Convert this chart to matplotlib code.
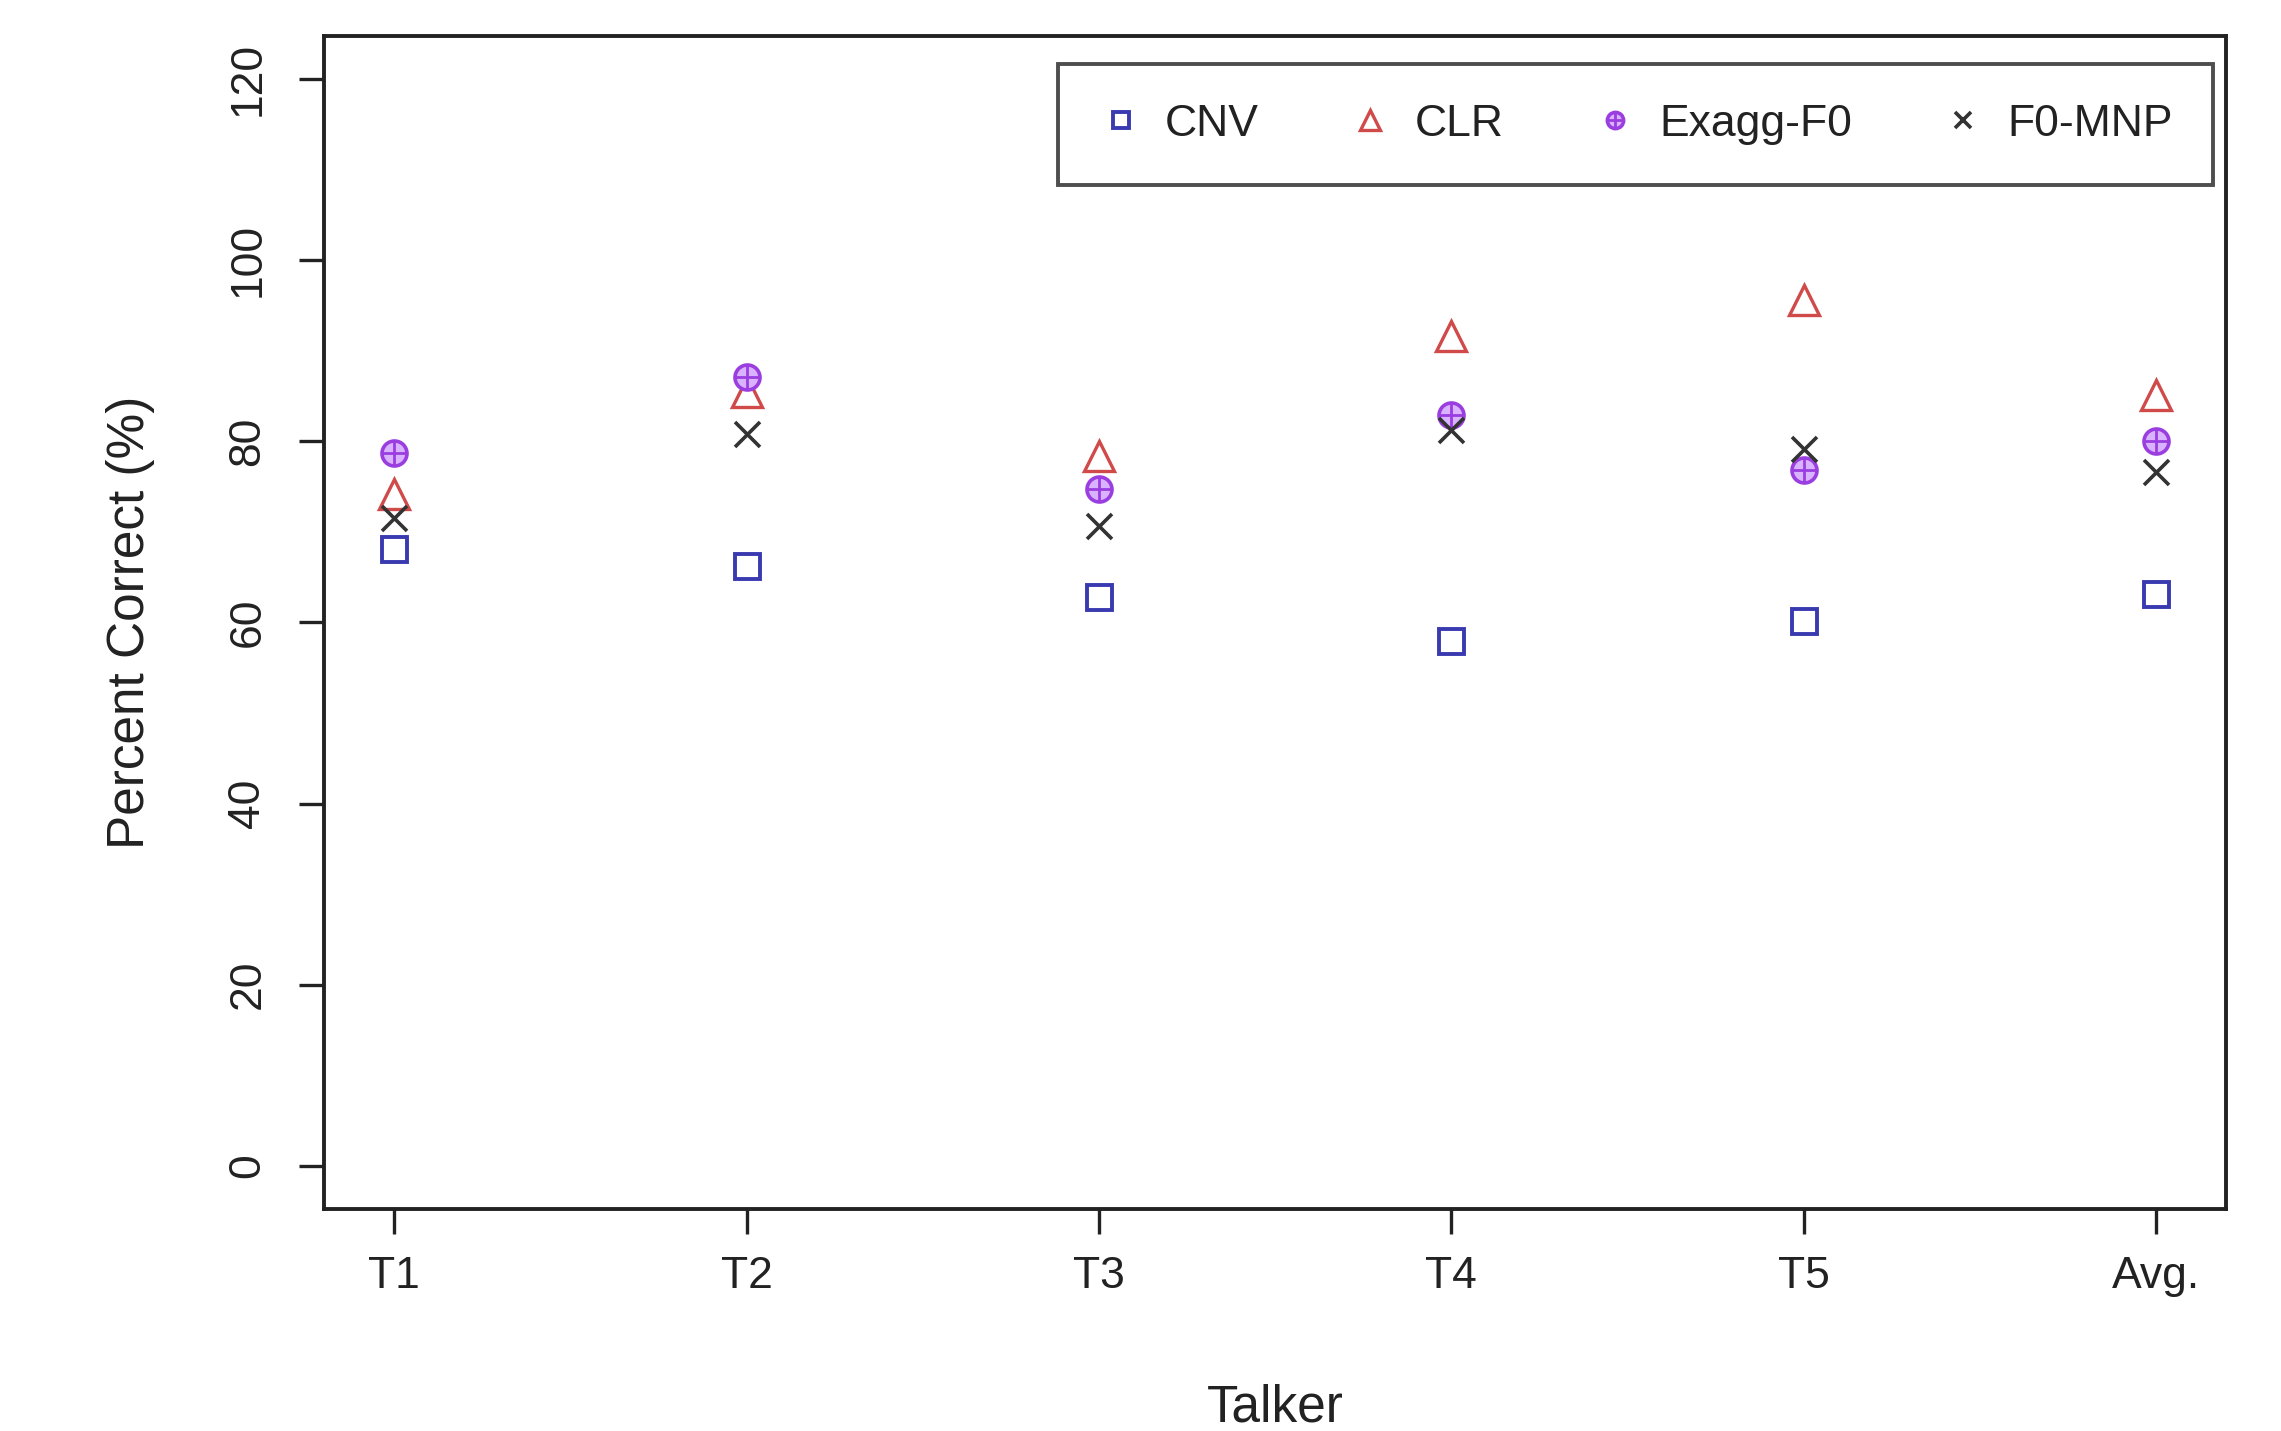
import matplotlib
matplotlib.use("Agg")
import matplotlib.pyplot as plt
from matplotlib.legend_handler import HandlerTuple

plt.rcParams['font.family'] = ['Liberation Sans', 'DejaVu Sans']

talkers = ["T1", "T2", "T3", "T4", "T5", "Avg."]
cnv = [68.1, 66.2, 62.8, 58.0, 60.2, 63.1]
clr = [74.2, 85.5, 78.4, 91.6, 95.6, 85.1]
exagg_f0 = [78.7, 87.1, 74.7, 82.9, 76.8, 80.0]
f0_mnp = [71.5, 80.8, 70.7, 81.3, 79.2, 76.6]

x = list(range(1, len(talkers) + 1))

fig = plt.figure(figsize=(22.81, 14.31), dpi=100)
ax = fig.add_axes([0.142, 0.155, 0.834, 0.82])

ms = 18
h_cnv, = ax.plot(x, cnv, ls='none', marker='s', ms=ms, mfc='none', mec='#3a3ab0', mew=2.8)
h_clr, = ax.plot(x, clr, ls='none', marker='^', ms=ms + 4, mfc='none', mec='#d04a4a', mew=2.4)
h_ex1, = ax.plot(x, exagg_f0, ls='none', marker='o', ms=ms, mfc='#d9b3ff', mec='#9b3ee0', mew=2.6)
h_ex2, = ax.plot(x, exagg_f0, ls='none', marker='+', ms=ms, mec='#9b3ee0', mew=2.0)
h_f0, = ax.plot(x, f0_mnp, ls='none', marker='x', ms=ms, mec='#333333', mew=2.6)

ax.set_xlim(0.8, 6.2)
ax.set_ylim(-4.8, 124.8)
ax.set_xticks(x)
ax.set_xticklabels(talkers)
ax.set_yticks([0, 20, 40, 60, 80, 100, 120])
ax.set_yticklabels(["0", "20", "40", "60", "80", "100", "120"], rotation=90, va='center')

ax.tick_params(axis='both', direction='out', length=18, width=2.4, labelsize=32, colors='#222222')
ax.tick_params(axis='x', pad=16)
ax.tick_params(axis='y', pad=22)
for s in ax.spines.values():
    s.set_linewidth(2.8)
    s.set_color('#222222')

ax.set_xlabel("Talker", fontsize=37, labelpad=62, color='#222222')
ax.set_ylabel("Percent Correct (%)", fontsize=37, labelpad=52, color='#222222')

leg = ax.legend([h_cnv, h_clr, (h_ex1, h_ex2), h_f0],
                ["CNV", "CLR", "Exagg-F0", "F0-MNP"],
                handler_map={tuple: HandlerTuple(ndivide=1)},
                loc='upper right', bbox_to_anchor=(0.993, 0.976), borderaxespad=0,
                ncol=4, fontsize=32, frameon=True, fancybox=False, markerscale=0.65,
                handlelength=1.0, handletextpad=0.5, columnspacing=2.0,
                borderpad=0.9, labelcolor='#222222')
leg.get_frame().set_edgecolor('#222222')
leg.get_frame().set_linewidth(2.8)

fig.savefig("out.png", dpi=100)
